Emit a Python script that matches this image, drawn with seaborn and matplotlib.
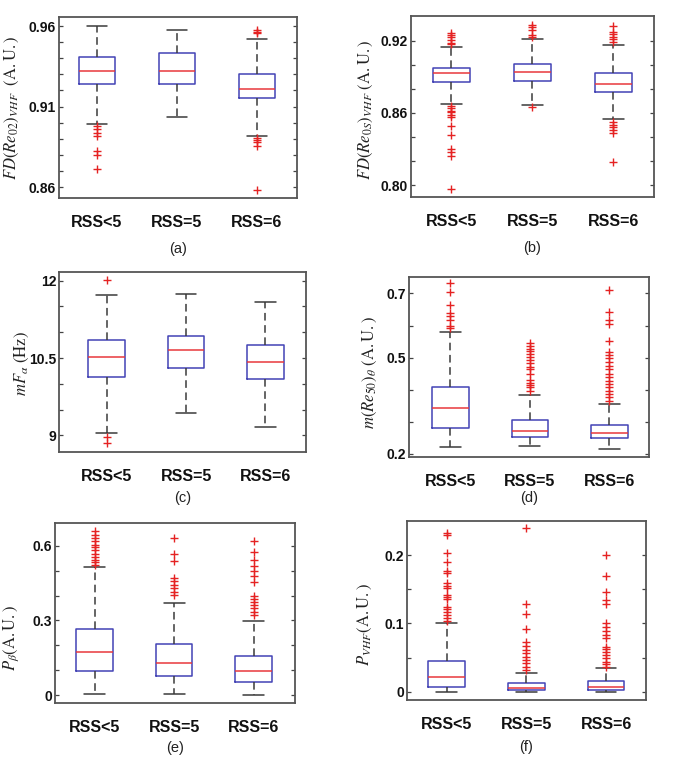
import numpy as np
import pandas as pd
import matplotlib
matplotlib.use("Agg")
import matplotlib.pyplot as plt
import seaborn as sns
from matplotlib.ticker import FixedLocator, FixedFormatter

GROUPS = ["RSS<5", "RSS=5", "RSS=6"]

# ---- panel (a) FD(Re02)VHF ----
A_MED = [0.9318, 0.9322, 0.9208]
A_Q1 = [0.9237, 0.9237, 0.9150]
A_Q3 = [0.9409, 0.9432, 0.9301]
A_LO = [0.8994, 0.9032, 0.8917]
A_HI = [0.9600, 0.9575, 0.9521]
A_FLIERS = [
    [0.8978, 0.8963, 0.8938, 0.8917, 0.8824, 0.8801, 0.8712],
    [],
    [0.9575, 0.9565, 0.9554, 0.8907, 0.8895, 0.8880, 0.8853, 0.8579],
]
A_TICKS = [0.86, 0.91, 0.96]
A_TICKLABELS = ["0.86", "0.91", "0.96"]
A_MINOR = [0.87, 0.88, 0.89, 0.90, 0.92, 0.93, 0.94, 0.95]

# ---- panel (b) FD(Re0S)VHF ----
B_MED = [0.8930, 0.8941, 0.8841]
B_Q1 = [0.8855, 0.8869, 0.8772]
B_Q3 = [0.8974, 0.9007, 0.8935]
B_LO = [0.8676, 0.8665, 0.8549]
B_HI = [0.9150, 0.9214, 0.9161]
B_FLIERS = [
    [0.9261, 0.9247, 0.9228, 0.9206, 0.9183, 0.9170,
     0.8659, 0.8640, 0.8620, 0.8604, 0.8585, 0.8565, 0.8488, 0.8419,
     0.8303, 0.8273, 0.8240, 0.7969],
    [0.9330, 0.9310, 0.9288, 0.9247, 0.9228, 0.8648],
    [0.9321, 0.9275, 0.9252, 0.9233, 0.9211, 0.9189,
     0.8527, 0.8502, 0.8480, 0.8455, 0.8433, 0.8195],
]
B_TICKS = [0.80, 0.86, 0.92]
B_TICKLABELS = ["0.80", "0.86", "0.92"]
B_MINOR = [0.82, 0.84, 0.88, 0.90]

# ---- panel (c) mF_alpha ----
C_MED = [10.523, 10.658, 10.426]
C_Q1 = [10.135, 10.297, 10.097]
C_Q3 = [10.858, 10.922, 10.755]
C_LO = [9.039, 9.439, 9.161]
C_HI = [11.729, 11.748, 11.587]
C_FLIERS = [[12.01, 8.96, 8.85], [], []]
C_TICKS = [9, 10.5, 12]
C_TICKLABELS = ["9", "10.5", "12"]
C_MINOR = [9.5, 10.0, 11.0, 11.5]

# ---- panel (d) m(Re50)theta ----
D_MED = [0.3416, 0.2728, 0.2665]
D_Q1 = [0.2822, 0.2530, 0.2499]
D_Q3 = [0.4072, 0.3051, 0.2915]
D_LO = [0.2207, 0.2248, 0.2165]
D_HI = [0.5812, 0.3843, 0.3561]
D_FLIERS = [
    [0.7323, 0.7031, 0.6625, 0.6385, 0.6281, 0.6177, 0.5989, 0.5916],
    [0.5447, 0.5364, 0.5281, 0.5197, 0.5114, 0.5031, 0.4926, 0.4822,
     0.4718, 0.4635, 0.4489, 0.4301, 0.4218, 0.4145, 0.4072, 0.3968],
    [0.7094, 0.6416, 0.6156, 0.6052, 0.5531, 0.5187, 0.5083, 0.4978,
     0.4874, 0.4739, 0.4635, 0.4489, 0.4385, 0.4280, 0.4176, 0.4072,
     0.3968, 0.3864, 0.3759, 0.3655],
]
D_TICKS = [0.2, 0.5, 0.7]
D_TICKLABELS = ["0.2", "0.5", "0.7"]
D_MINOR = [0.3, 0.4, 0.6]

# ---- panel (e) P_beta ----
E_MED = [0.1746, 0.1290, 0.0994]
E_Q1 = [0.0994, 0.0766, 0.0551]
E_Q3 = [0.2672, 0.2040, 0.1558]
E_LO = [0.0040, 0.0067, 0.0027]
E_HI = [0.5141, 0.3719, 0.2987]
E_FLIERS = [
    [0.6577, 0.6443, 0.6309, 0.6174, 0.6040, 0.5946, 0.5812, 0.5678,
     0.5544, 0.5436, 0.5329, 0.5235],
    [0.6309, 0.5678, 0.5396, 0.4698, 0.4564, 0.4430, 0.4296, 0.4161, 0.4027],
    [0.6174, 0.5745, 0.5436, 0.5195, 0.4967, 0.4765, 0.4524, 0.3987,
     0.3880, 0.3759, 0.3625, 0.3490, 0.3356, 0.3222],
]
E_TICKS = [0.0, 0.3, 0.6]
E_TICKLABELS = ["0", "0.3", "0.6"]
E_MINOR = [0.1, 0.2, 0.4, 0.5]

# ---- panel (f) P_VHF ----
F_MED = [0.0222, 0.0062, 0.0067]
F_Q1 = [0.0072, 0.0023, 0.0028]
F_Q3 = [0.0452, 0.0130, 0.0159]
F_LO = [0.0, 0.0, 0.0]
F_HI = [0.1011, 0.0281, 0.0344]
F_FLIERS = [
    [0.2326, 0.2292, 0.2024, 0.1893, 0.1766, 0.1732, 0.1586, 0.1552,
     0.1513, 0.1416, 0.1382, 0.1352, 0.1245, 0.1211, 0.1172, 0.1123,
     0.1075, 0.1041],
    [0.2390, 0.1279, 0.1133, 0.0919, 0.0734, 0.0670, 0.0612, 0.0563,
     0.0515, 0.0466, 0.0417, 0.0369, 0.0320],
    [0.2000, 0.1698, 0.1464, 0.1343, 0.1284, 0.1011, 0.0953, 0.0894,
     0.0831, 0.0782, 0.0661, 0.0627, 0.0588, 0.0539, 0.0490, 0.0442,
     0.0408, 0.0369],
]
F_TICKS = [0.0, 0.1, 0.2]
F_TICKLABELS = ["0", "0.1", "0.2"]
F_MINOR = [0.05, 0.15]

YLABELS = [
    r"$FD(Re_{\mathit{02}})_{VHF}\ \ \mathrm{(A.U.)}$",
    r"$FD(Re_{\mathit{0S}})_{VHF}\ \mathrm{(A.U.)}$",
    r"$mF_{\alpha}\ \mathrm{(Hz)}$",
    r"$m(Re_{\mathit{50}})_{\theta}\ \mathrm{(A.U.)}$",
    r"$P_{\beta}\mathrm{(A.U.)}$",
    r"$P_{VHF}\mathrm{(A.U.)}$",
]
PANEL_TAGS = ["(a)", "(b)", "(c)", "(d)", "(e)", "(f)"]

sns.set_style("white")
plt.rcParams["mathtext.fontset"] = "stix"
plt.rcParams["font.family"] = ["Liberation Sans", "DejaVu Sans"]

W, H = 676, 759
fig = plt.figure(figsize=(W / 100, H / 100), dpi=100)

# pixel boxes: left, right, top, bottom
RECTS = [
    (59, 297, 17, 198),
    (410.7, 654, 15.7, 197),
    (59, 306, 272, 452),
    (409, 649, 277, 457),
    (55, 295, 523, 703),
    (406.7, 646, 520.7, 700),
]
YLIMS = [(0.8532, 0.9656), (0.7903, 0.9407), (8.677, 12.168),
         (0.1906, 0.751), (-0.0309, 0.691), (-0.0117, 0.2501)]
XLIMS = [(0.525, 3.5), (0.5, 3.5), (0.4, 3.51), (0.48, 3.5), (0.5, 3.52), (0.5, 3.5)]
YLAB_POS = [(-0.197, 0.5), (-0.184, 0.48), (-0.15, 0.49), (-0.163, 0.47),
            (-0.183, 0.36), (-0.174, 0.42)]
TAG_Y = [-0.28, -0.28, -0.256, -0.228, -0.25, -0.26]

panels = [
    (A_MED, A_Q1, A_Q3, A_LO, A_HI, A_FLIERS, A_TICKS, A_TICKLABELS, A_MINOR),
    (B_MED, B_Q1, B_Q3, B_LO, B_HI, B_FLIERS, B_TICKS, B_TICKLABELS, B_MINOR),
    (C_MED, C_Q1, C_Q3, C_LO, C_HI, C_FLIERS, C_TICKS, C_TICKLABELS, C_MINOR),
    (D_MED, D_Q1, D_Q3, D_LO, D_HI, D_FLIERS, D_TICKS, D_TICKLABELS, D_MINOR),
    (E_MED, E_Q1, E_Q3, E_LO, E_HI, E_FLIERS, E_TICKS, E_TICKLABELS, E_MINOR),
    (F_MED, F_Q1, F_Q3, F_LO, F_HI, F_FLIERS, F_TICKS, F_TICKLABELS, F_MINOR),
]

BOX_C = "#4343b5"
MED_C = "#e8383c"
WHISK_C = "#3a3a3a"
FLIER_C = "#e52222"
FRAME_C = "#555555"

positions = [1, 2, 3]
for i, (med, q1, q3, lo, hi, fl, ticks, tlabels, minor) in enumerate(panels):
    l, r, t, b = RECTS[i]
    ax = fig.add_axes([l / W, 1 - b / H, (r - l) / W, (b - t) / H])
    stats = []
    for k in range(3):
        stats.append(dict(med=med[k], q1=q1[k], q3=q3[k], whislo=lo[k],
                          whishi=hi[k], fliers=[], label=GROUPS[k]))
    ax.bxp(stats, positions=positions, widths=0.46, capwidths=0.26,
           showfliers=False, patch_artist=False,
           boxprops=dict(color=BOX_C, linewidth=1.1),
           medianprops=dict(color=MED_C, linewidth=1.1),
           whiskerprops=dict(color=WHISK_C, linewidth=1.1, linestyle=(0, (5, 3))),
           capprops=dict(color=WHISK_C, linewidth=1.1))
    fx, fy = [], []
    for k in range(3):
        fx += [positions[k]] * len(fl[k])
        fy += fl[k]
    if fy:
        df = pd.DataFrame({"x": fx, "y": fy})
        sns.scatterplot(data=df, x="x", y="y", marker="+", color=FLIER_C,
                        s=32, linewidth=1.0, ax=ax, zorder=3)
    ax.set_xlim(*XLIMS[i])
    ax.set_ylim(*YLIMS[i])
    ax.set_xticks(positions)
    ax.set_xticklabels(GROUPS, fontsize=11.5, fontweight="bold", color="#111111")
    ax.tick_params(axis="x", length=0, pad=12)
    ax.yaxis.set_major_locator(FixedLocator(ticks))
    ax.yaxis.set_major_formatter(FixedFormatter(tlabels))
    ax.yaxis.set_minor_locator(FixedLocator(minor))
    ax.tick_params(axis="y", which="both", direction="in", length=3,
                   width=0.9, color="#444444", left=True, right=True, pad=2)
    for lab in ax.get_yticklabels():
        lab.set_fontsize(10)
        lab.set_fontweight("bold")
        lab.set_color("#111111")
    ax.set_xlabel("")
    ax.set_ylabel(YLABELS[i], fontsize=12, color="#222222")
    ax.yaxis.label.set_verticalalignment("center")
    ax.yaxis.set_label_coords(*YLAB_POS[i])
    for sp in ax.spines.values():
        sp.set_color(FRAME_C)
        sp.set_linewidth(1.3)
    ax.text(0.5, TAG_Y[i], PANEL_TAGS[i], transform=ax.transAxes,
            ha="center", va="center", fontsize=10.5, color="#222222")

fig.savefig("out.png", dpi=100, facecolor="white")
